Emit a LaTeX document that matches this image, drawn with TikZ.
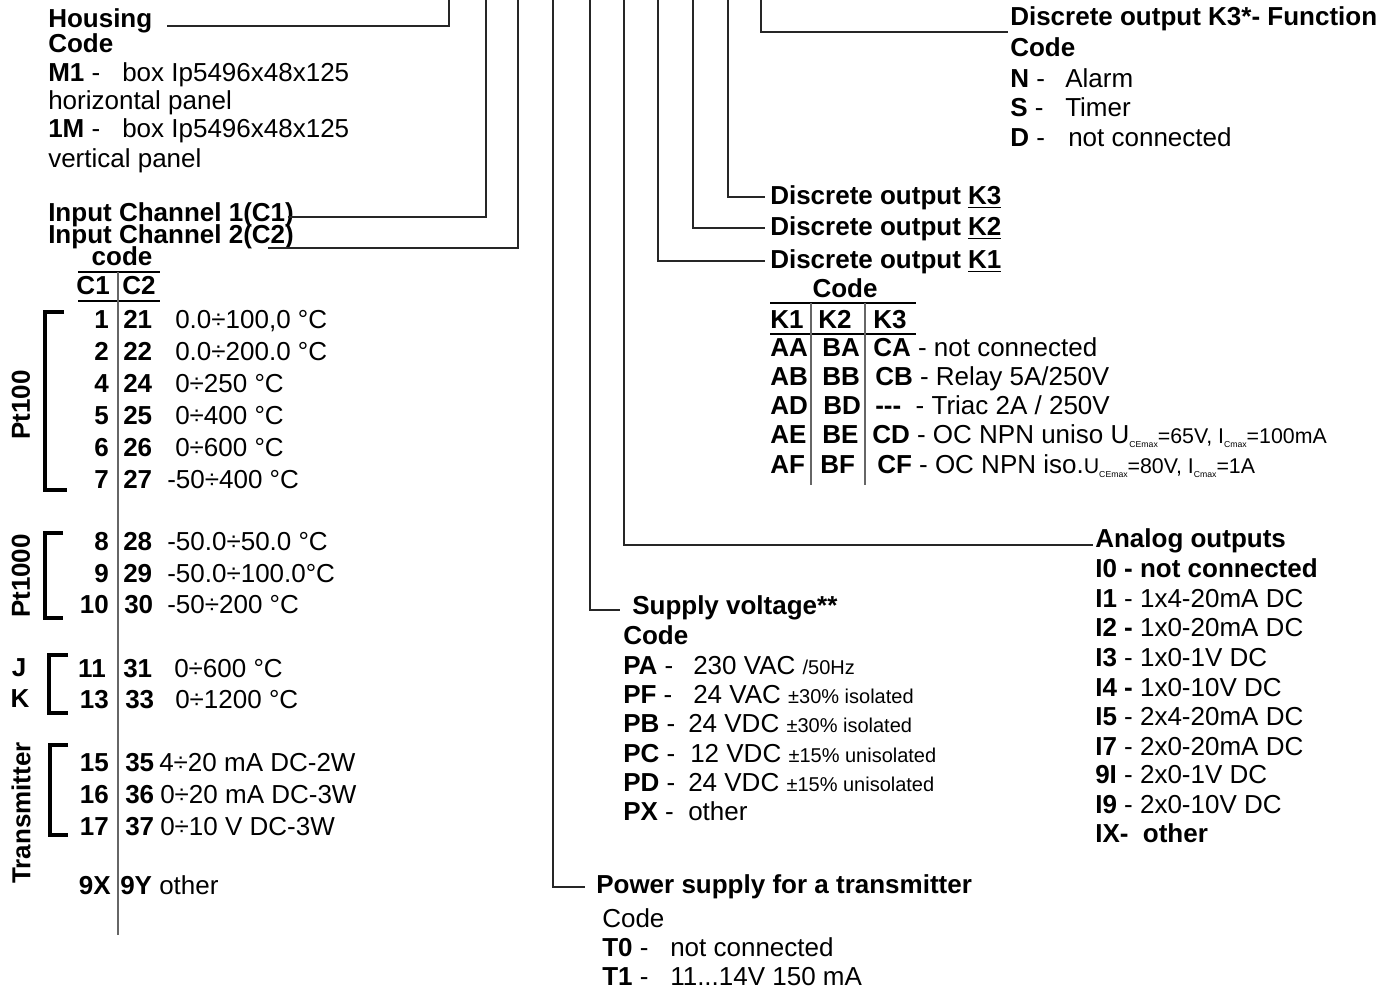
\documentclass[tikz,border=0pt]{standalone}
\usepackage{fontspec}
\setmainfont{Liberation Sans}
\newcommand{\smtxt}{\fontsize{15}{18}\selectfont}
\newcommand{\mdtxt}{\fontsize{16}{18}\selectfont}
\newcommand{\lowtxt}[1]{\raisebox{-2.5pt}{\fontsize{6.5}{7}\selectfont #1}}
\begin{document}
\begin{tikzpicture}[x=0.75pt, y=-0.75pt]
    \tikzset{
        txt/.style={inner sep=0pt, anchor=base west, font=\fontsize{19.5}{23}\selectfont},
        hd/.style={txt, font=\fontsize{19.5}{23}\selectfont\bfseries},
        num/.style={hd, anchor=base east},
        lead/.style={line width=1.1pt, black!85},
        rul/.style={line width=1.1pt},
        brk/.style={line width=2.4pt},
        sep/.style={line width=1pt, black!60}
    }
    \useasboundingbox (0,0) rectangle (1393,994);

    % Upper ends of the leaders
    \coordinate (tHou) at (449,0);
    \coordinate (tIn1) at (486,0);
    \coordinate (tIn2) at (518,0);
    \coordinate (tTra) at (553,0);
    \coordinate (tSup) at (590,0);
    \coordinate (tAna) at (624,0);
    \coordinate (tK1)  at (658,0);
    \coordinate (tK2)  at (693,0);
    \coordinate (tK3)  at (728,0);
    \coordinate (tFun) at (761,0);

    % --- HOUSING ---
    \node[hd] (housing) at (48,28) {Housing};
    \node[hd] (houCode) at (48,53) {Code};
    \node[txt] (houM1) at (48,82) {\textbf{M1} -};
    \node[txt] (houM1d) at (122,82) {box Ip5496x48x125};
    \node[txt] (houM1e) at (48,110) {horizontal panel};
    \node[txt] (houMa) at (48,138) {\textbf{1M} -};
    \node[txt] (houMad) at (122,138) {box Ip5496x48x125};
    \node[txt] (houMae) at (48,168) {vertical panel};

    % --- INPUT CHANNELS ---
    \node[hd, text depth=0pt] (in1) at (48,222) {Input Channel 1(C1)};
    \node[hd, text depth=0pt] (in2) at (48,244) {Input Channel 2(C2)};
    \node[hd, anchor=base] (inCode) at (122,266) {code};
    \draw[rul] (78,272) -- (160,272);
    \draw[rul] (78,301) -- (160,301);
    \draw[sep] (118,272) -- (118,935);
    \node[num] (hC1) at (110,295) {C1};
    \node[hd] (hC2) at (122,295) {C2};

    % Pt100
    \node[num] (a1) at (109,329) {1};  \node[hd] (b1) at (123,329) {21}; \node[txt] (d1) at (175,329) {0.0÷100,0 °C};
    \node[num] (a2) at (109,361) {2};  \node[hd] (b2) at (123,361) {22}; \node[txt] (d2) at (175,361) {0.0÷200.0 °C};
    \node[num] (a3) at (109,393) {4};  \node[hd] (b3) at (123,393) {24}; \node[txt] (d3) at (175,393) {0÷250 °C};
    \node[num] (a4) at (109,425) {5};  \node[hd] (b4) at (123,425) {25}; \node[txt] (d4) at (175,425) {0÷400 °C};
    \node[num] (a5) at (109,457) {6};  \node[hd] (b5) at (123,457) {26}; \node[txt] (d5) at (175,457) {0÷600 °C};
    \node[num] (a6) at (109,489) {7};  \node[hd] (b6) at (123,489) {27}; \node[txt] (d6) at (167,489) {-50÷400 °C};
    % Pt1000
    \node[num] (a7) at (109,551) {8};  \node[hd] (b7) at (123,551) {28}; \node[txt] (d7) at (167,551) {-50.0÷50.0 °C};
    \node[num] (a8) at (109,583) {9};  \node[hd] (b8) at (123,583) {29}; \node[txt] (d8) at (167,583) {-50.0÷100.0°C};
    \node[num] (a9) at (109,614) {10}; \node[hd] (b9) at (124,614) {30}; \node[txt] (d9) at (167,614) {-50÷200 °C};
    % J / K
    \node[num] (a10) at (106,677) {11}; \node[hd] (b10) at (123,677) {31}; \node[txt] (d10) at (174,677) {0÷600 °C};
    \node[num] (a11) at (109,709) {13}; \node[hd] (b11) at (125,709) {33}; \node[txt] (d11) at (175,709) {0÷1200 °C};
    % Transmitter
    \node[num] (a12) at (109,771) {15}; \node[hd] (b12) at (125,771) {35}; \node[txt] (d12) at (159,771) {4÷20 mA DC-2W};
    \node[num] (a13) at (109,803) {16}; \node[hd] (b13) at (125,803) {36}; \node[txt] (d13) at (160,803) {0÷20 mA DC-3W};
    \node[num] (a14) at (109,835) {17}; \node[hd] (b14) at (125,835) {37}; \node[txt] (d14) at (160,835) {0÷10 V DC-3W};
    \node[num] (a15) at (111,894) {9X}; \node[hd] (b15) at (120,894) {9Y}; \node[txt] (d15) at (159,894) {other};

    % Brackets of the sensor groups
    \draw[brk] (64,312) -- (45,312) -- (45,490) -- (67,490);
    \draw[brk] (63,533) -- (45,533) -- (45,618) -- (63,618);
    \draw[brk] (68,655) -- (49,655) -- (49,713) -- (68,713);
    \draw[brk] (68,745) -- (50,745) -- (50,835) -- (68,835);
    \node[hd, anchor=center, rotate=90] (gPt1) at (21,405) {Pt100};
    \node[hd, anchor=center, rotate=90] (gPt2) at (21,576) {Pt1000};
    \node[hd, anchor=center] (gJ) at (19,668) {J};
    \node[hd, anchor=center] (gK) at (20,699) {K};
    \node[hd, anchor=center, rotate=90] (gTr) at (21,813) {Transmitter};

    % --- DISCRETE OUTPUT K3 FUNCTION ---
    \node[hd] (fun) at (1010,26) {Discrete output K3*- Function};
    \node[hd] (funCode) at (1010,57) {Code};
    \node[txt] (funN) at (1010,88) {\textbf{N} -};  \node[txt] (funNd) at (1065,88) {Alarm};
    \node[txt] (funS) at (1010,117) {\textbf{S} -}; \node[txt] (funSd) at (1065,117) {Timer};
    \node[txt] (funD) at (1010,147) {\textbf{D} -}; \node[txt] (funDd) at (1068,147) {not connected};

    % --- DISCRETE OUTPUTS K1..K3 ---
    \node[hd] (outK3) at (770,205) {Discrete output \underline{K3}};
    \node[hd] (outK2) at (770,236) {Discrete output \underline{K2}};
    \node[hd] (outK1) at (770,269) {Discrete output \underline{K1}};
    \node[hd, anchor=base] (outCode) at (845,298) {Code};
    \draw[rul] (770,303) -- (916,303);
    \draw[rul] (770,334) -- (916,334);
    \draw[sep] (811,303) -- (811,485);
    \draw[sep] (865,303) -- (865,485);
    \node[hd] (hK1) at (770,329) {K1}; \node[hd] (hK2) at (818,329) {K2}; \node[hd] (hK3) at (873,329) {K3};
    \node[hd] (k1a) at (770,357) {AA}; \node[hd] (k2a) at (822,357) {BA}; \node[txt] (k3a) at (873,357) {\textbf{CA} - not connected};
    \node[hd] (k1b) at (770,386) {AB}; \node[hd] (k2b) at (822,386) {BB}; \node[txt] (k3b) at (875,386) {\textbf{CB} - Relay 5A/250V};
    \node[hd] (k1c) at (770,415) {AD}; \node[hd] (k2c) at (823,415) {BD}; \node[txt] (k3c) at (875,415) {\textbf{-{}-{}-}~~- Triac 2A / 250V};
    \node[hd] (k1d) at (770,444) {AE}; \node[hd] (k2d) at (822,444) {BE}; \node[txt] (k3d) at (872,444) {\textbf{CD} - OC NPN uniso U\lowtxt{CEmax}{\mdtxt =65V, I}\lowtxt{Cmax}{\mdtxt =100mA}};
    \node[hd] (k1e) at (770,474) {AF}; \node[hd] (k2e) at (820,474) {BF}; \node[txt] (k3e) at (877,474) {\textbf{CF} - OC NPN iso.{\mdtxt U}\lowtxt{CEmax}{\mdtxt =80V, I}\lowtxt{Cmax}{\mdtxt =1A}};

    % --- ANALOG OUTPUTS ---
    \node[hd] (ana) at (1095,548) {Analog outputs};
    \node[hd] (ana0) at (1095,578) {I0 - not connected};
    \node[txt] (ana1) at (1095,608) {\textbf{I1} - 1x4-20mA DC};
    \node[txt] (ana2) at (1095,637) {\textbf{I2 -} 1x0-20mA DC};
    \node[txt] (ana3) at (1095,667) {\textbf{I3} - 1x0-1V DC};
    \node[txt] (ana4) at (1095,696) {\textbf{I4 -} 1x0-10V DC};
    \node[txt] (ana5) at (1095,725) {\textbf{I5} - 2x4-20mA DC};
    \node[txt] (ana7) at (1095,755) {\textbf{I7} - 2x0-20mA DC};
    \node[txt] (ana9a) at (1095,783) {\textbf{9I} - 2x0-1V DC};
    \node[txt] (ana9b) at (1095,813) {\textbf{I9} - 2x0-10V DC};
    \node[hd] (anaX) at (1095,842) {IX-~~other};

    % --- SUPPLY VOLTAGE ---
    \node[hd] (sup) at (632,615) {Supply voltage**};
    \node[hd] (supCode) at (623,645) {Code};
    \node[txt] (supA) at (623,674) {\textbf{PA} -}; \node[txt] (supAd) at (693,674) {230 VAC {\smtxt /50Hz}};
    \node[txt] (supF) at (623,703) {\textbf{PF} -}; \node[txt] (supFd) at (693,703) {24 VAC {\smtxt ±30\% isolated}};
    \node[txt] (supB) at (623,732) {\textbf{PB} -}; \node[txt] (supBd) at (688,732) {24 VDC {\smtxt ±30\% isolated}};
    \node[txt] (supC) at (623,762) {\textbf{PC} -}; \node[txt] (supCd) at (690,762) {12 VDC {\smtxt ±15\% unisolated}};
    \node[txt] (supD) at (623,791) {\textbf{PD} -}; \node[txt] (supDd) at (688,791) {24 VDC {\smtxt ±15\% unisolated}};
    \node[txt] (supX) at (623,820) {\textbf{PX} -}; \node[txt] (supXd) at (688,820) {other};

    % --- TRANSMITTER POWER SUPPLY ---
    \node[hd] (tra) at (596,893) {Power supply for a transmitter};
    \node[txt] (traCode) at (602,927) {Code};
    \node[txt] (tra0) at (602,956) {\textbf{T0} -}; \node[txt] (tra0d) at (670,956) {not connected};
    \node[txt] (tra1) at (602,985) {\textbf{T1} -}; \node[txt] (tra1d) at (670,985) {11...14V 150 mA};

    % --- LEADERS ---
    \draw[lead] (tHou) |- ([xshift=11pt, yshift=1.5pt]housing.base east);
    \draw[lead] (tIn1) |- ([xshift=-4.5pt, yshift=3.75pt]in1.base east);
    \draw[lead] (tIn2) |- ([xshift=-19.5pt, yshift=-3pt]in2.base east);
    \draw[lead] (tTra) |- ([xshift=-8pt, yshift=4.5pt]tra.base west);
    \draw[lead] (tSup) |- ([xshift=-9pt, yshift=3.75pt]sup.base west);
    \draw[lead] (tAna) |- ([xshift=-1.5pt, yshift=2.25pt]ana.base west);
    \draw[lead] (tK1) |- ([xshift=-3.75pt, yshift=6pt]outK1.base west);
    \draw[lead] (tK2) |- ([xshift=-3.75pt, yshift=6pt]outK2.base west);
    \draw[lead] (tK3) |- ([xshift=-3.75pt, yshift=6pt]outK3.base west);
    \draw[lead] (tFun) |- ([xshift=-1.5pt, yshift=-4.5pt]fun.base west);

\end{tikzpicture}
\end{document}
